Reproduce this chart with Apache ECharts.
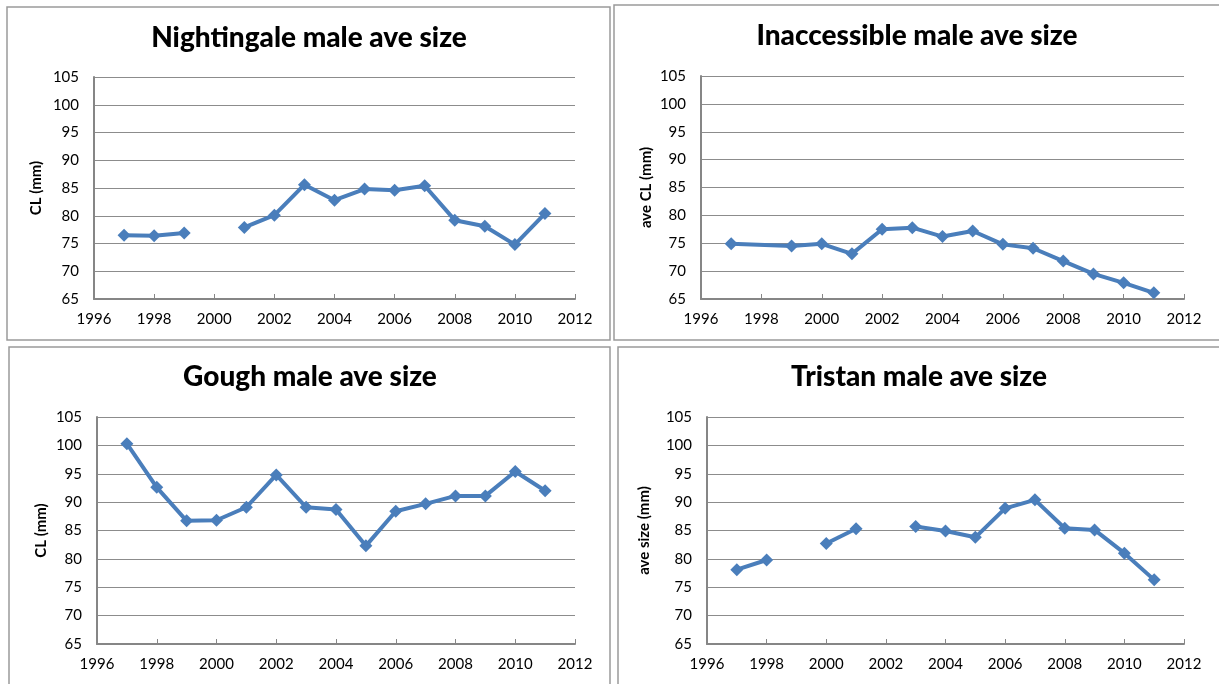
<!DOCTYPE html>
<html>
<head>
<meta charset="utf-8">
<script src="https://cdn.jsdelivr.net/npm/echarts@6/dist/echarts.min.js"></script>
<style>
html,body{margin:0;padding:0;background:#fff;}
#c{width:1219px;height:684px;}
</style>
</head>
<body>
<div id="c"></div>
<script>
// ---- data ----
const titles = ["Nightingale male ave size", "Inaccessible male ave size", "Gough male ave size", "Tristan male ave size"];
const yNames = ["CL (mm)", "ave CL (mm)", "CL (mm)", "ave size (mm)"];
const xTicks = [1996, 1998, 2000, 2002, 2004, 2006, 2008, 2010, 2012];
const yTicks = [65, 70, 75, 80, 85, 90, 95, 100, 105];

const nightingaleYears = [1997, 1998, 1999, 2000, 2001, 2002, 2003, 2004, 2005, 2006, 2007, 2008, 2009, 2010, 2011];
const nightingaleSize  = [76.5, 76.4, 76.9, null, 77.9, 80.1, 85.6, 82.8, 84.8, 84.6, 85.4, 79.2, 78.1, 74.8, 80.4];

const inaccessibleYears = [1997, 1999, 2000, 2001, 2002, 2003, 2004, 2005, 2006, 2007, 2008, 2009, 2010, 2011];
const inaccessibleSize  = [74.9, 74.5, 74.9, 73.1, 77.5, 77.8, 76.2, 77.2, 74.8, 74.1, 71.8, 69.5, 67.9, 66.1];

const goughYears = [1997, 1998, 1999, 2000, 2001, 2002, 2003, 2004, 2005, 2006, 2007, 2008, 2009, 2010, 2011];
const goughSize  = [100.3, 92.6, 86.7, 86.8, 89.1, 94.8, 89.1, 88.7, 82.3, 88.4, 89.7, 91.1, 91.1, 95.4, 92.0];

const tristanYears = [1997, 1998, 1999, 2000, 2001, 2002, 2003, 2004, 2005, 2006, 2007, 2008, 2009, 2010, 2011];
const tristanSize  = [78.1, 79.8, null, 82.7, 85.3, null, 85.7, 84.9, 83.8, 88.9, 90.4, 85.4, 85.1, 81.0, 76.3];

const seriesYears = [nightingaleYears, inaccessibleYears, goughYears, tristanYears];
const seriesVals  = [nightingaleSize, inaccessibleSize, goughSize, tristanSize];

// ---- layout ----
const grids = [
  {left: 94,  top: 77,  width: 481, height: 222},
  {left: 701, top: 76,  width: 483, height: 223},
  {left: 97,  top: 417, width: 478, height: 227},
  {left: 707, top: 417, width: 477, height: 227}
];
const titleCenters = [{x: 309, y: 24}, {x: 917, y: 22}, {x: 310, y: 363}, {x: 919, y: 363}];
const nameGaps = [50, 47, 48, 55];
const frames = [
  {x: 7,   y: 7,   w: 603, h: 333},
  {x: 614, y: 5,   w: 610, h: 335},
  {x: 9,   y: 347, w: 601, h: 345},
  {x: 618, y: 347, w: 610, h: 345}
];

const FONT = 'Lato';
const LINE = '#4A7EBB';

const chart = echarts.init(document.getElementById('c'), null, {renderer: 'canvas'});

const option = {
  backgroundColor: '#fff',
  animation: false,
  title: titles.map((t, i) => ({
    text: t,
    left: titleCenters[i].x,
    top: titleCenters[i].y,
    textAlign: 'center',
    padding: 0,
    textStyle: {fontFamily: FONT, fontWeight: 900, fontSize: 28, color: '#000'}
  })),
  grid: grids.map(g => Object.assign({containLabel: false}, g)),
  xAxis: grids.map((g, i) => ({
    type: 'value',
    gridIndex: i,
    min: xTicks[0],
    max: xTicks[xTicks.length - 1],
    interval: 2,
    axisLine: {show: true, onZero: false, lineStyle: {color: '#868686', width: 2}},
    axisTick: {show: true, inside: true, length: 5, lineStyle: {color: '#868686', width: 1}},
    splitLine: {show: false},
    axisLabel: {fontFamily: FONT, fontSize: 15, color: '#000', margin: 13,
                formatter: v => String(v)}
  })),
  yAxis: grids.map((g, i) => ({
    type: 'value',
    gridIndex: i,
    min: yTicks[0],
    max: yTicks[yTicks.length - 1],
    interval: 5,
    name: yNames[i],
    nameLocation: 'middle',
    nameRotate: 90,
    nameGap: nameGaps[i],
    nameTextStyle: {fontFamily: FONT, fontWeight: 'bold', fontSize: 15, color: '#000'},
    axisLine: {show: true, lineStyle: {color: '#868686', width: 2}},
    axisTick: {show: false},
    splitLine: {show: true, lineStyle: {color: '#8c8c8c', width: 1}},
    axisLabel: {fontFamily: FONT, fontSize: 15, color: '#000', margin: 15}
  })),
  series: seriesVals.map((vals, i) => ({
    type: 'line',
    xAxisIndex: i,
    yAxisIndex: i,
    data: seriesYears[i].map((y, k) => [y, vals[k] == null ? '-' : vals[k]]),
    connectNulls: false,
    symbol: 'diamond',
    symbolSize: [13, 13],
    showAllSymbol: true,
    lineStyle: {color: LINE, width: 4},
    itemStyle: {color: LINE, borderWidth: 0}
  })),
  graphic: frames.map(f => ({
    type: 'rect',
    shape: {x: f.x, y: f.y, width: f.w, height: f.h},
    style: {fill: 'none', stroke: '#9a9a9a', lineWidth: 1.5},
    silent: true,
    z: 100
  }))
};
chart.setOption(option);
</script>
</body>
</html>
